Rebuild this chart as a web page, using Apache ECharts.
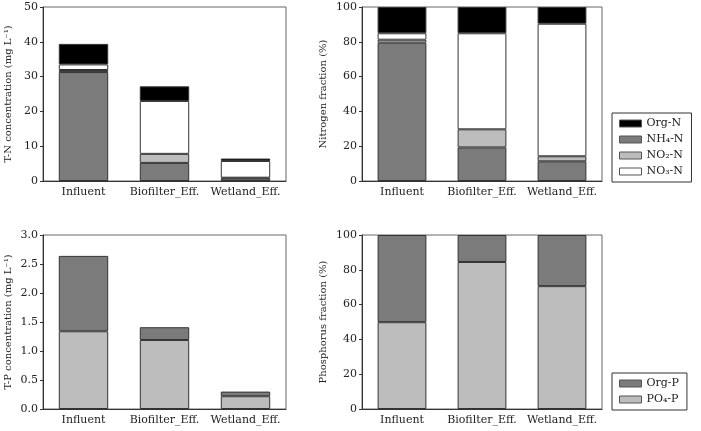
<!DOCTYPE html>
<html>
<head>
<meta charset="utf-8">
<script src="https://cdn.jsdelivr.net/npm/echarts@6/dist/echarts.min.js"></script>
<style>
  html, body { margin: 0; padding: 0; background: #fff; }
  #chart { width: 701px; height: 431px; }
</style>
</head>
<body>
<div id="chart"></div>
<script>
// sampling sites
const sites = ['Influent', 'Biofilter_Eff.', 'Wetland_Eff.'];

// T-N concentration (mg/L), stacked bottom to top
const tnNH4 = [31.3, 5.2, 0.75];
const tnNO2 = [0.6, 2.6, 0.2];
const tnNO3 = [1.6, 15.2, 4.8];
const tnOrg = [5.9, 4.2, 0.7];

// Nitrogen fraction (%)
const fnNH4 = [79.5, 19.3, 11.3];
const fnNO2 = [1.7, 10.4, 2.9];
const fnNO3 = [3.7, 55.2, 76.2];
const fnOrg = [15.1, 15.1, 9.6];

// T-P concentration (mg/L)
const tpPO4 = [1.34, 1.19, 0.22];
const tpOrg = [1.30, 0.22, 0.08];

// Phosphorus fraction (%)
const fpPO4 = [49.9, 84.5, 70.6];
const fpOrg = [50.1, 15.5, 29.4];

const C_ORG_N = '#000000';
const C_DARK = '#7b7b7b';
const C_LIGHT = '#bdbdbd';
const C_WHITE = '#ffffff';
const FONT = 'DejaVu Serif';

const chart = echarts.init(document.getElementById('chart'));

const grids = [
  { left: 43, top: 7, width: 243, height: 174 },
  { left: 362, top: 7, width: 240, height: 174 },
  { left: 43, top: 235, width: 243, height: 174 },
  { left: 362, top: 235, width: 240, height: 174 }
].map(g => Object.assign(g, { show: true, borderColor: '#666', borderWidth: 1, backgroundColor: 'transparent' }));

const xAxes = grids.map((g, i) => ({
  type: 'category',
  gridIndex: i,
  data: sites,
  axisLine: { lineStyle: { color: '#333', width: 1 } },
  axisTick: { alignWithLabel: true, length: 3, lineStyle: { color: '#333' } },
  axisLabel: { fontFamily: FONT, fontSize: 11, color: '#222', margin: 6, interval: 0 }
}));

function yAxis(i, max, interval, name, gap, fmt) {
  return {
    type: 'value',
    gridIndex: i,
    min: 0,
    max: max,
    interval: interval,
    name: name,
    nameLocation: 'middle',
    nameGap: gap,
    nameTextStyle: { fontFamily: FONT, fontSize: 10, color: '#222' },
    axisLine: { show: true, lineStyle: { color: '#333', width: 1 } },
    axisTick: { show: true, length: 3, lineStyle: { color: '#333' } },
    splitLine: { show: false },
    axisLabel: { fontFamily: FONT, fontSize: 11, color: '#222', margin: 5, formatter: fmt }
  };
}

const yAxes = [
  yAxis(0, 50, 10, 'T-N concentration (mg L\u207B\u00B9)', 30),
  yAxis(1, 100, 20, 'Nitrogen fraction (%)', 34),
  yAxis(2, 3, 0.5, 'T-P concentration (mg L\u207B\u00B9)', 30, v => v.toFixed(1)),
  yAxis(3, 100, 20, 'Phosphorus fraction (%)', 34)
];

function bar(name, data, idx, stack, color) {
  return {
    name: name,
    type: 'bar',
    data: data,
    xAxisIndex: idx,
    yAxisIndex: idx,
    stack: stack,
    barWidth: '61%',
    itemStyle: { color: color, borderColor: '#333', borderWidth: 1 }
  };
}

const series = [
  bar('NH\u2084-N', tnNH4, 0, 'tn', C_DARK),
  bar('NO\u2082-N', tnNO2, 0, 'tn', C_LIGHT),
  bar('NO\u2083-N', tnNO3, 0, 'tn', C_WHITE),
  bar('Org-N', tnOrg, 0, 'tn', C_ORG_N),
  bar('NH\u2084-N', fnNH4, 1, 'fn', C_DARK),
  bar('NO\u2082-N', fnNO2, 1, 'fn', C_LIGHT),
  bar('NO\u2083-N', fnNO3, 1, 'fn', C_WHITE),
  bar('Org-N', fnOrg, 1, 'fn', C_ORG_N),
  bar('PO\u2084-P', tpPO4, 2, 'tp', C_LIGHT),
  bar('Org-P', tpOrg, 2, 'tp', C_DARK),
  bar('PO\u2084-P', fpPO4, 3, 'fp', C_LIGHT),
  bar('Org-P', fpOrg, 3, 'fp', C_DARK)
];

const legendBase = {
  orient: 'vertical',
  left: 612,
  icon: 'rect',
  itemWidth: 22,
  itemHeight: 7,
  itemGap: 5,
  padding: [5, 8, 5, 7],
  borderColor: '#333',
  borderWidth: 1,
  backgroundColor: '#fff',
  textStyle: { fontFamily: FONT, fontSize: 11, color: '#222' },
  itemStyle: { borderColor: '#555', borderWidth: 1 }
};

chart.setOption({
  backgroundColor: '#fff',
  animation: false,
  grid: grids,
  xAxis: xAxes,
  yAxis: yAxes,
  legend: [
    Object.assign({}, legendBase, { top: 113, data: ['Org-N', 'NH\u2084-N', 'NO\u2082-N', 'NO\u2083-N'] }),
    Object.assign({}, legendBase, { top: 373, data: ['Org-P', 'PO\u2084-P'] })
  ],
  series: series
});
</script>
</body>
</html>
